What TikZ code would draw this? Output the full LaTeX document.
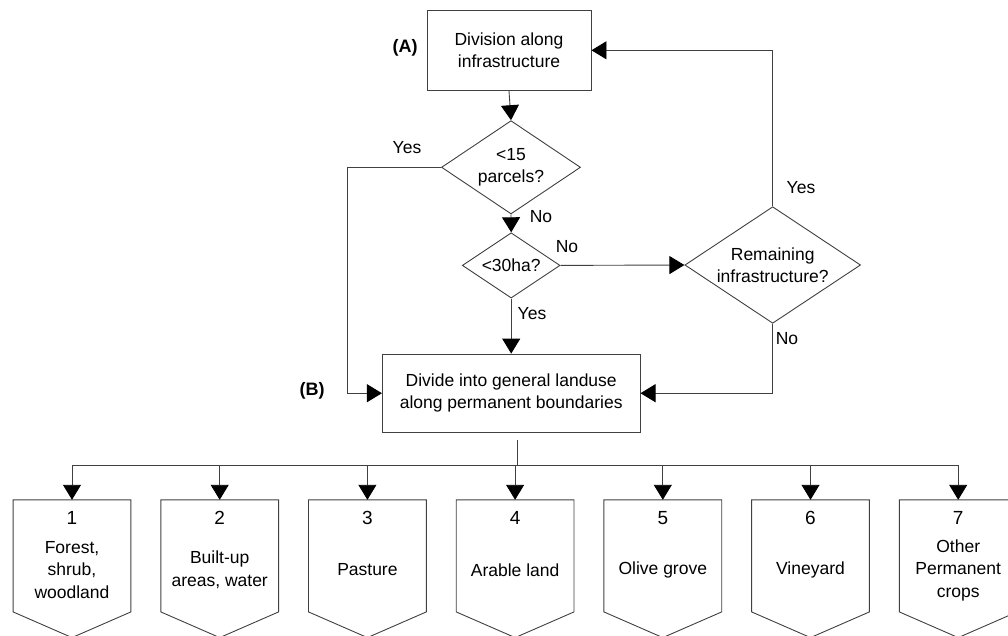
\documentclass[tikz,border=0pt]{standalone}
\usepackage{fontspec}
\setmainfont{Liberation Sans}
\usetikzlibrary{shapes.geometric,arrows.meta,calc}
\begin{document}
\begin{tikzpicture}[x=1pt,y=-1pt,
  font=\fontsize{17.5}{22.5}\selectfont,
  line/.style={draw=black!75, line width=0.9pt},
  arr/.style={line, -{Triangle[length=15pt,width=18pt,black]}},
  procbox/.style={line, rectangle, align=center, inner sep=0pt},
  dec/.style={line, diamond, aspect=1.5, align=center, inner sep=0pt},
  cat/.style={rectangle, minimum width=117.4pt, minimum height=111.7pt, inner sep=0pt},
  cattext/.style={align=center, inner sep=0pt},
  catnum/.style={inner sep=0pt, font=\fontsize{19}{22}\selectfont},
  lbl/.style={inner sep=0pt},
  bold/.style={inner sep=0pt, font=\fontsize{18}{22}\selectfont\bfseries},
]
\useasboundingbox (0,0) rectangle (1008,635);

% main process nodes
\node[procbox, minimum width=164pt, minimum height=80.7pt] (A) at (509,50.3) {Division along\\infrastructure};
\node[dec, minimum width=139pt, minimum height=93.3pt] (d1) at (511,167.3) {<15\\parcels?};
\node[dec, minimum width=97.7pt, minimum height=65.3pt] (d2) at (511.2,265.4) {<30ha?};
\node[dec, minimum width=175.7pt, minimum height=116.6pt] (d3) at (772.7,265) {Remaining\\infrastructure?};
\node[procbox, minimum width=257.7pt, minimum height=78.3pt] (B) at (511.2,393.2) {Divide into general landuse\\along permanent boundaries};

\node[bold] (lA) at (405,48) {(A)};
\node[bold] (lB) at (312,391) {(B)};

% connectors
\draw[arr] (A.south) -- (d1.north);
\draw[arr] (d1.south) -- (d2.north);
\draw[arr] (d2.east) -- (d3.west);
\draw[arr] (d2.south) -- (B.north);
\coordinate (L) at (347,167.3);
\draw[arr] (d1.west) -- (L) |- (B.west);
\draw[arr] (d3.north) |- (A.east);
\draw[arr] (d3.south) |- (B.east);

% connector labels
\node[lbl] (y1) at (407,148) {Yes};
\node[lbl] (n1) at (541,217) {No};
\node[lbl] (n2) at (567,247) {No};
\node[lbl] (y2) at (532,314) {Yes};
\node[lbl] (y3) at (801,188) {Yes};
\node[lbl] (n3) at (787,339) {No};

% categories
\foreach \i/\x/\t in {1/72/{Forest,\\shrub,\\woodland},
                      2/219.7/{Built-up\\areas, water},
                      3/367.4/{Pasture},
                      4/515.1/{Arable land},
                      5/662.8/{Olive grove},
                      6/810.5/{Vineyard},
                      7/958.2/{Other\\Permanent\\crops}}{
  \node[cat] (c\i) at (\x,555.85) {};
  \draw[line] (c\i.north west) -- (c\i.north east) -- (c\i.south east)
     -- ($(c\i.south)+(0,25.7)$) -- (c\i.south west) -- cycle;
  \node[catnum] (k\i) at (\x,518) {\i};
  \node[cattext] (t\i) at (\x,570) {\t};
}

% bus
\coordinate (bt) at (517,440);
\coordinate (bus) at (517,465);
\draw[line] (bt) -- (bus);
\draw[line] (c1.north |- bus) -- (c7.north |- bus);
\foreach \i in {1,...,7}{
  \draw[arr] (c\i.north |- bus) -- (c\i.north);
}
\end{tikzpicture}
\end{document}
